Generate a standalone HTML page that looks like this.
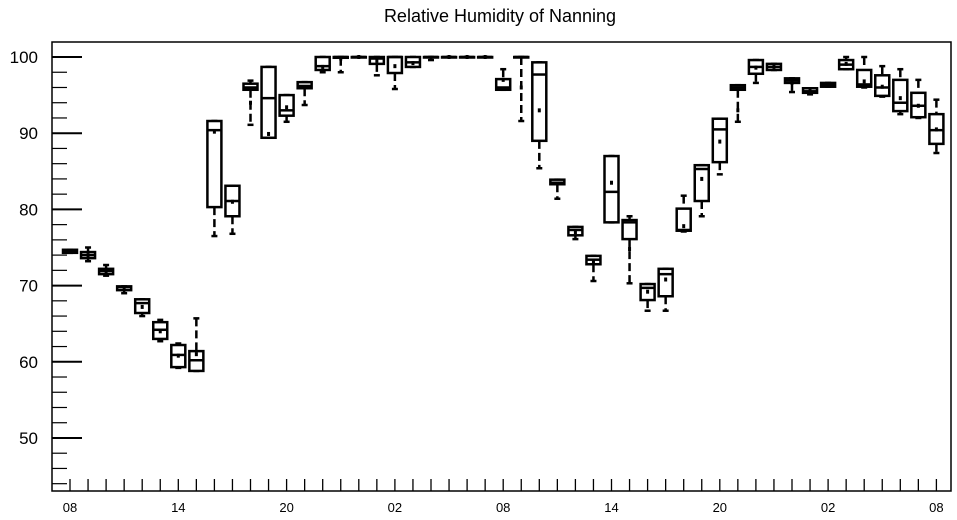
<!DOCTYPE html>
<html><head><meta charset="utf-8"><style>
html,body{margin:0;padding:0;background:#fff;}
svg{display:block;font-family:"Liberation Sans",sans-serif;}
</style></head><body>
<svg id="chart" width="957" height="520" viewBox="0 0 957 520">
<text x="500" y="22" text-anchor="middle" font-size="18">Relative Humidity of Nanning</text>
<rect x="52" y="42" width="899" height="449" fill="none" stroke="#000" stroke-width="1.5"/>
<g id="yaxis"></g>
<g id="xaxis"></g>
<g id="boxes"></g>
</svg>
<script>
const hours = ["08","09","10","11","12","13","14","15","16","17","18","19","20","21","22","23","00","01","02","03","04","05","06","07","08","09","10","11","12","13","14","15","16","17","18","19","20","21","22","23","00","01","02","03","04","05","06","07","08"];
const mins = [74.3,73.2,71.3,69.0,66.0,62.7,59.2,58.8,76.5,76.8,91.1,89.8,91.5,93.7,98.0,98.0,100,97.6,95.8,98.7,99.6,100,100,100,95.7,91.6,85.4,81.4,76.1,70.6,78.3,70.3,66.7,66.7,77.1,79.1,84.6,91.5,96.6,98.3,95.4,95.1,96.1,98.4,96.0,94.8,92.5,92.0,87.4];
const q1s = [74.3,73.6,71.5,69.4,66.4,63.0,59.3,58.8,80.3,79.1,95.7,89.4,92.3,95.9,98.3,99.9,100,99.1,97.9,98.7,100,100,100,100,95.7,100,89.0,83.3,76.6,72.8,78.3,76.1,68.1,68.6,77.2,81.1,86.2,95.7,97.8,98.3,96.6,95.3,96.1,98.4,96.1,94.9,92.9,92.1,88.6];
const medians = [74.5,74.0,71.9,69.8,67.7,64.2,60.9,60.2,90.4,81.1,96.0,94.6,93.0,96.2,98.8,100,100,99.8,100,99.3,100,100,100,100,96.0,100,97.7,83.5,77.3,73.4,82.3,78.3,69.7,71.5,77.3,85.3,90.5,96.0,98.7,98.7,96.9,95.5,96.3,99.0,96.4,96.0,94.0,93.6,90.4];
const q3s = [74.7,74.4,72.2,69.9,68.2,65.2,62.2,61.4,91.6,83.1,96.5,98.7,95.0,96.7,100,100,100,100,100,100,100,100,100,100,97.1,100,99.3,83.9,77.7,73.9,87.0,78.6,70.2,72.2,80.1,85.8,91.9,96.3,99.6,99.1,97.2,95.9,96.6,99.6,98.3,97.6,97.0,95.3,92.5];
const maxs = [74.7,75.0,72.7,69.9,68.2,65.5,62.4,65.7,91.6,83.1,96.9,98.7,95.0,96.7,100,100,100,100,100,100,100,100,100,100,98.4,100,99.3,83.9,77.7,73.9,87.0,79.1,70.2,72.2,81.8,85.8,91.9,96.3,99.6,99.1,97.2,95.9,96.6,100,100,98.8,98.4,97.0,94.4];
const means = [74.5,74.0,71.9,69.6,67.2,64.0,60.8,61.0,90.2,81.0,94.0,89.9,93.4,96.0,98.7,99.8,100,99.5,98.8,99.2,99.9,100,100,100,97.0,96.0,93.0,83.4,77.0,73.2,83.5,74.8,69.2,70.8,77.8,84.0,88.9,93.0,98.6,98.7,96.6,95.5,96.3,99.1,96.8,96.1,94.6,93.6,90.5];
const yTicks = [50,60,70,80,90,100];

const NS="http://www.w3.org/2000/svg";
const yMin=43.04, yMax=101.97, plotTop=42, plotBot=491;
const x0=70, dx=18.05;
function Y(v){return plotBot-(v-yMin)/(yMax-yMin)*(plotBot-plotTop);}
function X(i){return x0+i*dx;}
function mk(tag,attrs,parent){const e=document.createElementNS(NS,tag);for(const k in attrs)e.setAttribute(k,attrs[k]);parent.appendChild(e);return e;}

const ya=document.getElementById('yaxis');
for(let v=44;v<=100;v+=2){
  const major=v%10===0;
  const t=mk('line',{x1:52,x2:major?82:67,y1:Y(v),y2:Y(v),stroke:'#000','stroke-width':major?2:1.2},ya);
  
  
}
yTicks.forEach(v=>{
  const t=mk('text',{x:38,y:Y(v)+6,'text-anchor':'end','font-size':17},ya);
  t.textContent=v;
  
  
});
const xa=document.getElementById('xaxis');
hours.forEach((h,i)=>{
  const t=mk('line',{x1:X(i),x2:X(i),y1:491,y2:479,stroke:'#000','stroke-width':1.3},xa);
  
  
  if(i%6===0){
    const l=mk('text',{x:X(i),y:512,'text-anchor':'middle','font-size':13},xa);
    l.textContent=h;
    
    
  }
});
const bx=document.getElementById('boxes');
const hw=7;
hours.forEach((h,i)=>{
  const g=mk('g',{},bx);
  
  
  const cx=X(i), sw=2.5;
  const yq1=Y(q1s[i]), yq3=Y(q3s[i]);
  mk('line',{x1:cx,x2:cx,y1:Y(maxs[i]),y2:yq3,stroke:'#000','stroke-width':sw,'stroke-dasharray':'8,4'},g);
  mk('line',{x1:cx,x2:cx,y1:yq1,y2:Y(mins[i]),stroke:'#000','stroke-width':sw,'stroke-dasharray':'8,4'},g);
  mk('line',{x1:cx-3,x2:cx+3,y1:Y(maxs[i]),y2:Y(maxs[i]),stroke:'#000','stroke-width':sw},g);
  mk('line',{x1:cx-3,x2:cx+3,y1:Y(mins[i]),y2:Y(mins[i]),stroke:'#000','stroke-width':sw},g);
  mk('rect',{x:cx-hw,y:yq3,width:2*hw,height:Math.max(yq1-yq3,0.5),fill:'#fff',stroke:'#000','stroke-width':sw},g);
  mk('line',{x1:cx-hw,x2:cx+hw,y1:Y(medians[i]),y2:Y(medians[i]),stroke:'#000','stroke-width':sw},g);
  mk('line',{x1:cx,x2:cx,y1:Y(means[i])-2,y2:Y(means[i])+2,stroke:'#000','stroke-width':3},g);
});
</script>
</body></html>
